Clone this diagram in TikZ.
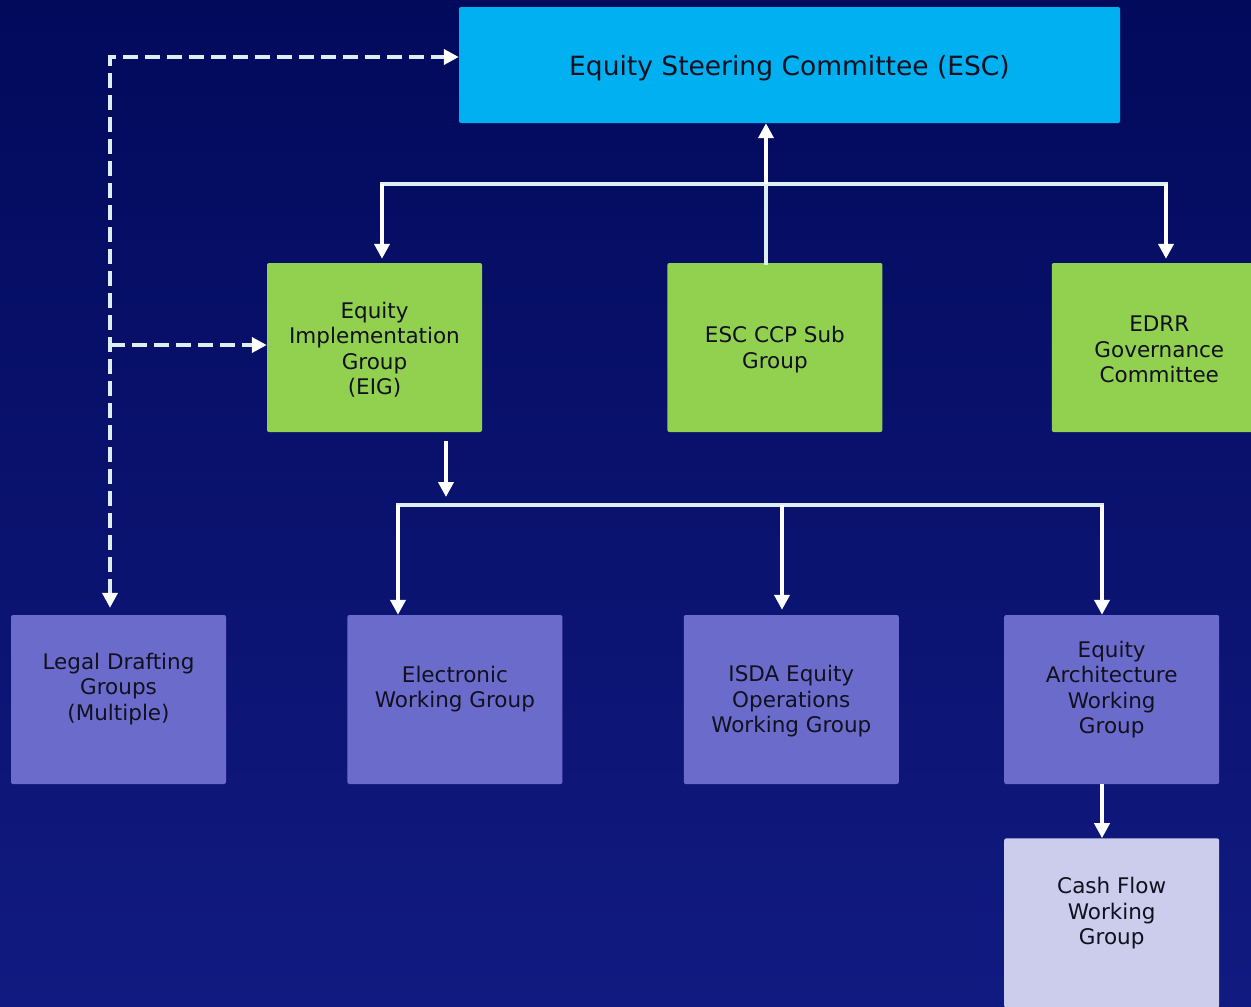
\documentclass[tikz,border=0pt]{standalone}
\usepackage{fontspec}
\setmainfont{DejaVu Sans}
\usetikzlibrary{positioning}
\usetikzlibrary{arrows.meta}
\definecolor{escblue}{HTML}{00B0F0}
\definecolor{grpgreen}{HTML}{92D050}
\definecolor{wgpurple}{HTML}{6B6BCC}
\definecolor{wglilac}{HTML}{CCCCEC}
\definecolor{bgtop}{HTML}{020A5C}
\definecolor{bgbot}{HTML}{111A80}
\definecolor{linkline}{HTML}{DCEEF2}
\definecolor{txtdark}{HTML}{10101E}
\tikzset{
	box/.style={
		rectangle,
		rounded corners=2pt,
		inner sep=0pt,
		minimum width=215pt,
		minimum height=169pt},
	group/.style={box, fill=grpgreen},
	wg/.style={box, fill=wgpurple},
	txt/.style={align=center, text=txtdark, font=\fontsize{21.5}{25.5}\selectfont},
	tip/.style={-{Triangle[length=15pt,width=15pt,color=white]}},
	arr/.style={draw=white, line width=4pt, tip},
	bar/.style={draw=linkline, line width=4pt, line cap=rect},
	dashlink/.style={draw=linkline, line width=4.5pt, dash pattern=on 15pt off 7pt}
}
\begin{document}
\begin{tikzpicture}[x=1pt, y=-1pt]
	\useasboundingbox (0,0) rectangle (1251,1007);
	\shade[top color=bgtop, bottom color=bgbot] (0,0) rectangle (1251,1007);
	
	% committees
	\node[box, fill=escblue, minimum width=661pt, minimum height=116pt] (esc) at (789.5,65) {};
	\node[group] (eig) at (374.5,347.5) {};
	\node[group, right=185pt of eig] (ccp) {};
	\node[group, right=169pt of ccp] (edrr) {};
	
	% working groups
	\node[wg] (legal) at (118.5,699.5) {};
	\node[wg, right=121pt of legal] (elec) {};
	\node[wg, right=121pt of elec] (isda) {};
	\node[wg, right=105pt of isda] (eqarch) {};
	\node[box, fill=wglilac, below=54pt of eqarch] (cash) {};
	
	\node[txt, font=\fontsize{26.5}{30}\selectfont, yshift=-3pt] (escT) at (esc) {Equity Steering Committee (ESC)};
	\node[txt, yshift=-2pt] (eigT) at (eig) {Equity\\Implementation\\Group\\(EIG)};
	\node[txt, yshift=-2pt] (ccpT) at (ccp) {ESC CCP Sub\\Group};
	\node[txt, yshift=-2pt] (edrrT) at (edrr) {EDRR\\Governance\\Committee};
	\node[txt, yshift=10.5pt] (legalT) at (legal) {Legal Drafting\\Groups\\(Multiple)};
	\node[txt, yshift=10.5pt] (elecT) at (elec) {Electronic\\Working Group};
	\node[txt, yshift=-2pt] (isdaT) at (isda) {ISDA Equity\\Operations\\Working Group};
	\node[txt, yshift=10pt] (eqarchT) at (eqarch) {Equity\\Architecture\\Working\\Group};
	\node[txt, yshift=9.5pt] (cashT) at (cash) {Cash Flow\\Working\\Group};
	
	% dashed links
	\coordinate (dc) at (110,57);
	\coordinate (db) at (110,345);
	\draw[dashlink, {Triangle[length=15pt,width=15pt,color=white]}-{Triangle[length=15pt,width=15pt,color=white]},
	      shorten <=7pt] (dc |- legal.north) -- (dc) -- (dc -| esc.west);
	\draw[dashlink, tip] (db) -- (db -| eig.west);
	
	% top tree
	\coordinate (tl) at (382,184);
	\coordinate (tm) at (766,184);
	\coordinate (tr) at (1166,184);
	\draw[bar] (tl) -- (tr);
	\draw[bar] (ccp.north -| tm) -- (tm);
	\draw[arr] (tm) -- (tm |- esc.south);
	\draw[arr, shorten >=4pt] (tl) -- (tl |- eig.north);
	\draw[arr, shorten >=4pt] (tr) -- (tr |- edrr.north);
	
	% bottom tree
	\coordinate (eigout) at (446,441);
	\coordinate (eigin) at (446,497);
	\draw[arr] (eigout) -- (eigin);
	\coordinate (bl) at (398,505);
	\coordinate (bm) at (782,505);
	\coordinate (br) at (1102,505);
	\draw[bar] (bl) -- (br);
	\draw[arr] (bl) -- (bl |- elec.north);
	\draw[arr, shorten >=5pt] (bm) -- (bm |- isda.north);
	\draw[arr] (br) -- (br |- eqarch.north);
	\draw[arr] (eqarch.south -| br) -- (cash.north -| br);
\end{tikzpicture}
\end{document}
